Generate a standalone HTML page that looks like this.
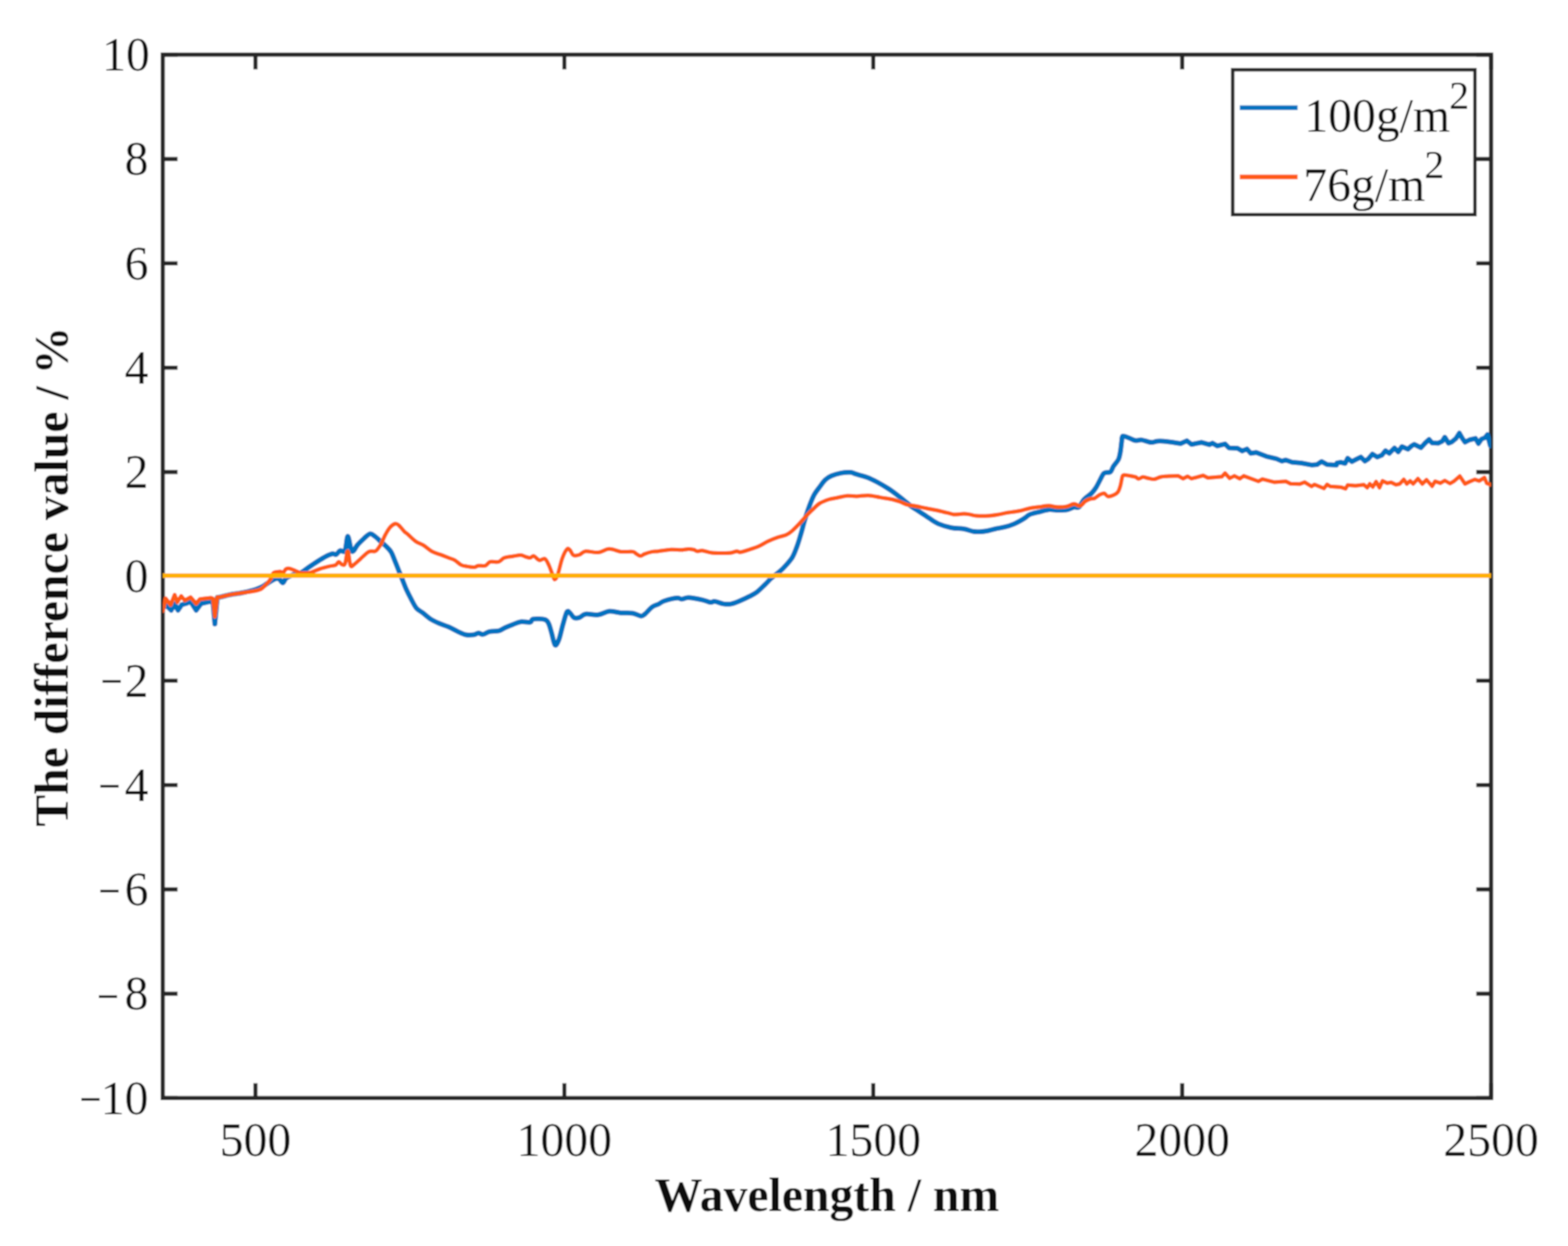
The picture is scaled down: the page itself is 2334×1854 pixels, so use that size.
<!DOCTYPE html><html><head><meta charset="utf-8"><title>The difference value</title><style>html,body{margin:0;padding:0;background:#fff;overflow:hidden;}svg{display:block}</style></head><body>
<svg width="2334" height="1854" viewBox="0 0 2334 1854">
<defs><filter id="soft" x="0" y="0" width="2334" height="1854" filterUnits="userSpaceOnUse"><feConvolveMatrix order="5" kernelMatrix="1 4 6 4 1 4 16 24 16 4 6 24 36 24 6 4 16 24 16 4 1 4 6 4 1" divisor="256" edgeMode="duplicate"/></filter></defs>
<g filter="url(#soft)">
<rect width="2334" height="1854" fill="#fff"/>
<path d="M242.3,1633.80h22M2219.5,1633.80h-22M242.3,1478.55h22M2219.5,1478.55h-22M242.3,1323.30h22M2219.5,1323.30h-22M242.3,1168.05h22M2219.5,1168.05h-22M242.3,1012.80h22M2219.5,1012.80h-22M242.3,702.30h22M2219.5,702.30h-22M242.3,547.05h22M2219.5,547.05h-22M242.3,391.80h22M2219.5,391.80h-22M242.3,236.55h22M2219.5,236.55h-22M242.3,81.30h22M2219.5,81.30h-22M380.24,1633.8v-22M380.24,81.3v22M840.06,1633.8v-22M840.06,81.3v22M1299.87,1633.8v-22M1299.87,81.3v22M1759.69,1633.8v-22M1759.69,81.3v22M2219.50,1633.8v-22M2219.50,81.3v22" stroke="#262626" stroke-width="6.2" fill="none"/>
<rect x="242.3" y="81.3" width="1977.2" height="1552.5" fill="none" stroke="#262626" stroke-width="6.2"/>
<g clip-path="url(#clip)">
<defs><clipPath id="clip"><rect x="242.3" y="81.3" width="1977.2" height="1552.5"/></clipPath></defs>
<path d="M242.5,903.0C242.5,903.0 248.3,901.6 248.3,901.6C248.3,901.6 254.8,908.0 254.8,908.0C254.8,908.0 260.0,898.8 260.0,898.8C260.0,898.8 265.0,908.0 265.0,908.0C265.0,908.0 270.6,899.8 270.6,899.8C270.6,899.8 277.0,898.0 277.0,898.0C277.0,898.0 283.6,895.0 283.6,895.0C283.6,895.0 292.0,908.0 292.0,908.0C292.0,908.0 299.4,898.0 299.4,898.0C299.4,898.0 312.4,895.0 312.4,895.0C312.4,895.0 317.0,896.0 317.0,896.0C317.0,896.0 319.8,928.5 319.8,928.5C319.8,928.5 323.5,889.0 323.5,889.0C323.5,889.0 327.2,888.6 327.2,888.6C327.2,888.6 336.4,886.1 342.0,885.0C347.6,883.9 354.4,883.2 360.6,882.0C366.8,880.8 374.4,878.8 379.0,877.5C383.6,876.2 385.3,875.5 388.4,874.0C391.5,872.5 394.9,869.9 397.7,868.2C400.5,866.5 402.7,864.8 405.0,863.6C407.3,862.4 409.8,861.1 411.6,860.8C413.4,860.5 414.4,860.9 416.0,862.0C417.6,863.1 419.4,867.5 421.0,867.3C422.6,867.1 423.7,862.5 425.5,860.8C427.3,859.1 429.6,858.1 432.0,857.0C434.4,855.9 437.2,854.9 440.0,854.0C442.8,853.1 445.6,853.2 448.6,851.8C451.6,850.3 454.0,847.9 457.8,845.3C461.6,842.7 467.1,838.9 471.7,836.0C476.3,833.1 481.8,829.7 485.7,827.7C489.6,825.7 492.4,824.5 494.9,824.0C497.4,823.5 498.6,825.8 500.5,825.0C502.4,824.2 503.9,820.3 506.1,819.4C508.3,818.5 511.6,823.0 513.5,819.4C515.4,815.8 516.2,798.2 517.7,798.0C519.2,797.8 521.3,814.8 522.8,818.4C524.3,822.0 525.0,820.6 526.5,819.4C528.0,818.2 529.5,814.0 532.0,811.0C534.5,808.0 538.2,804.5 541.3,801.7C544.4,798.9 547.8,794.9 550.6,794.3C553.4,793.7 555.2,796.0 558.0,798.0C560.8,800.0 564.5,803.9 567.3,806.4C570.1,808.9 572.2,810.4 574.7,812.9C577.2,815.4 579.9,817.7 582.1,821.2C584.3,824.8 585.5,828.9 587.7,834.2C589.9,839.5 593.2,848.2 595.1,852.8C597.0,857.4 597.2,858.0 598.8,862.0C600.4,866.0 602.6,872.0 604.7,876.8C606.9,881.6 609.2,886.1 611.7,890.8C614.2,895.5 616.9,901.3 619.8,904.8C622.7,908.3 625.7,909.1 629.2,911.8C632.7,914.5 637.0,918.6 640.9,921.1C644.8,923.6 648.0,925.0 652.5,927.0C657.0,929.0 662.8,930.7 667.7,932.8C672.6,934.9 677.4,937.8 681.7,939.8C686.0,941.8 689.5,943.7 693.4,944.5C697.3,945.3 702.0,944.9 705.1,944.5C708.2,944.1 709.8,942.2 712.1,942.1C714.4,942.0 716.4,944.3 719.1,943.9C721.8,943.5 724.5,940.7 728.4,939.8C732.3,938.9 738.5,939.6 742.4,938.6C746.3,937.6 748.3,935.5 751.8,934.0C755.3,932.5 759.6,930.8 763.5,929.3C767.4,927.8 770.8,925.8 775.1,925.2C779.4,924.6 786.0,926.5 789.1,925.8C792.2,925.1 790.1,921.8 793.8,921.1C797.4,920.5 807.1,920.7 811.0,921.9C814.9,923.1 815.1,924.7 816.9,928.3C818.6,931.9 820.0,938.2 821.5,943.5C823.0,948.8 824.5,958.4 826.2,959.8C828.0,961.1 830.0,956.7 832.0,951.6C834.0,946.5 835.9,936.2 837.9,929.4C839.9,922.6 842.0,913.7 843.7,910.8C845.5,907.9 846.6,910.5 848.4,911.9C850.1,913.2 851.9,917.7 854.2,918.9C856.5,920.1 859.5,919.8 862.4,918.9C865.3,918.0 867.0,914.4 871.7,913.7C876.4,913.0 884.5,915.5 890.4,914.8C896.2,914.1 901.1,910.1 906.8,909.6C912.4,909.1 918.5,911.4 924.3,911.9C930.1,912.4 936.9,911.7 941.8,912.5C946.7,913.3 950.6,916.3 953.5,916.6C956.4,916.9 956.4,916.6 959.3,914.3C962.2,912.0 967.5,905.5 971.0,903.0C974.5,900.5 977.0,900.5 980.0,899.0C983.0,897.5 984.6,895.5 989.3,894.0C994.0,892.5 1003.8,890.2 1008.0,889.8C1012.2,889.4 1011.8,891.7 1014.6,891.6C1017.4,891.5 1019.7,889.1 1024.8,889.3C1029.9,889.5 1040.0,891.4 1045.4,892.6C1050.9,893.8 1054.4,895.9 1057.5,896.3C1060.6,896.7 1060.8,894.5 1064.1,894.9C1067.4,895.3 1073.2,898.0 1077.2,898.6C1081.2,899.2 1084.4,899.4 1088.4,898.6C1092.4,897.8 1096.9,895.9 1101.4,894.0C1105.9,892.1 1111.3,889.6 1115.5,887.4C1119.7,885.2 1122.8,883.8 1126.7,880.9C1130.6,878.0 1135.2,873.1 1138.8,869.7C1142.4,866.3 1145.0,863.1 1148.1,860.3C1151.2,857.5 1154.4,855.5 1157.5,852.9C1160.6,850.3 1163.2,848.4 1166.8,844.5C1170.4,840.6 1176.0,834.6 1179.3,829.4C1182.5,824.2 1184.1,818.9 1186.3,813.1C1188.5,807.3 1190.2,801.0 1192.2,794.4C1194.2,787.8 1195.9,780.4 1198.0,773.4C1200.1,766.4 1202.7,758.6 1205.0,752.4C1207.3,746.2 1209.5,740.7 1212.0,736.0C1214.5,731.3 1217.5,728.1 1220.2,724.4C1222.9,720.7 1225.5,716.6 1228.4,713.9C1231.3,711.2 1233.8,709.7 1237.7,708.0C1241.6,706.3 1247.0,704.8 1251.7,703.9C1256.4,703.0 1261.8,702.5 1265.7,702.8C1269.6,703.1 1270.6,704.4 1275.1,705.7C1279.6,707.1 1287.1,708.8 1292.6,710.9C1298.0,713.0 1302.9,715.9 1307.8,718.5C1312.7,721.1 1317.5,724.0 1321.8,726.7C1326.1,729.4 1329.6,732.0 1333.5,734.9C1337.4,737.8 1341.2,741.1 1345.1,744.2C1349.0,747.3 1352.8,750.7 1356.8,753.6C1360.8,756.5 1364.9,758.9 1369.3,761.8C1373.7,764.7 1378.7,768.2 1383.4,771.2C1388.1,774.2 1392.0,777.3 1397.4,779.6C1402.8,781.9 1409.8,784.0 1416.0,785.2C1422.2,786.4 1429.2,786.1 1434.7,787.0C1440.2,787.9 1444.8,790.1 1448.7,790.8C1452.6,791.5 1455.0,791.3 1458.1,791.2C1461.2,791.1 1463.5,791.0 1467.4,790.3C1471.3,789.6 1476.7,788.0 1481.4,787.0C1486.1,786.0 1490.8,785.4 1495.5,784.2C1500.2,783.0 1504.8,781.6 1509.5,779.6C1514.2,777.6 1519.6,774.4 1523.5,772.1C1527.4,769.8 1528.9,767.3 1532.8,765.6C1536.7,763.9 1541.9,763.0 1546.8,761.8C1551.7,760.6 1557.4,758.7 1562.1,758.3C1566.8,757.9 1570.7,759.2 1575.2,759.2C1579.7,759.2 1585.3,759.1 1589.2,758.3C1593.1,757.5 1595.8,755.1 1598.6,754.5C1601.4,753.9 1603.5,756.4 1606.0,754.5C1608.5,752.6 1610.4,746.7 1613.5,743.3C1616.6,739.9 1621.7,737.0 1624.7,734.0C1627.7,731.0 1629.3,728.7 1631.3,725.6C1633.3,722.5 1634.9,718.9 1636.9,715.3C1638.9,711.7 1640.8,706.3 1643.4,704.1C1646.1,701.9 1650.5,703.9 1652.8,702.2C1655.1,700.5 1655.4,696.9 1657.4,693.8C1659.4,690.7 1663.2,687.1 1664.9,683.5C1666.6,679.9 1666.9,676.6 1667.7,672.3C1668.5,667.9 1669.0,661.3 1669.6,657.4C1670.2,653.5 1669.5,649.9 1671.4,649.0C1673.3,648.1 1677.7,650.7 1680.8,651.8C1683.9,652.9 1687.0,655.0 1690.1,655.5C1693.2,656.0 1695.6,654.1 1699.5,654.6C1703.4,655.1 1709.6,658.0 1713.5,658.3C1717.4,658.6 1718.9,656.6 1722.8,656.4C1726.7,656.2 1731.0,656.3 1736.8,656.9C1742.6,657.5 1757.4,660.0 1757.4,660.0C1757.4,660.0 1766.7,655.9 1766.7,655.9C1766.7,655.9 1773.6,661.2 1773.6,661.2C1773.6,661.2 1788.7,658.3 1788.7,658.3C1788.7,658.3 1800.3,661.7 1800.3,661.7C1800.3,661.7 1804.9,659.4 1804.9,659.4C1804.9,659.4 1811.9,663.5 1811.9,663.5C1811.9,663.5 1823.5,660.6 1823.5,660.6C1823.5,660.6 1829.3,666.4 1829.3,666.4C1829.3,666.4 1842.0,667.0 1842.0,667.0C1842.0,667.0 1849.0,671.0 1849.0,671.0C1849.0,671.0 1856.0,668.1 1856.0,668.1C1856.0,668.1 1861.8,674.5 1861.8,674.5C1861.8,674.5 1869.9,673.3 1869.9,673.3C1869.9,673.3 1885.0,679.1 1885.0,679.1C1885.0,679.1 1900.0,682.6 1900.0,682.6C1900.0,682.6 1908.1,686.1 1908.1,686.1C1908.1,686.1 1914.0,684.4 1914.0,684.4C1914.0,684.4 1923.2,687.8 1923.2,687.8C1923.2,687.8 1937.1,689.0 1937.1,689.0C1937.1,689.0 1952.2,691.9 1952.2,691.9C1952.2,691.9 1960.3,691.3 1960.3,691.3C1960.3,691.3 1967.3,686.7 1967.3,686.7C1967.3,686.7 1975.4,691.3 1975.4,691.3C1975.4,691.3 1989.3,691.9 1989.3,691.9C1989.3,691.9 1990.0,689.0 1990.0,689.0C1990.0,689.0 1995.6,687.9 1995.6,687.9C1995.6,687.9 2002.2,689.5 2002.2,689.5C2002.2,689.5 2006.1,681.8 2006.1,681.8C2006.1,681.8 2012.3,686.8 2012.3,686.8C2012.3,686.8 2018.9,683.4 2018.9,683.4C2018.9,683.4 2025.6,680.1 2025.6,680.1C2025.6,680.1 2031.7,686.2 2031.7,686.2C2031.7,686.2 2036.7,682.9 2036.7,682.9C2036.7,682.9 2042.9,675.6 2042.9,675.6C2042.9,675.6 2050.1,680.1 2050.1,680.1C2050.1,680.1 2056.8,677.3 2056.8,677.3C2056.8,677.3 2062.3,670.6 2062.3,670.6C2062.3,670.6 2067.9,674.5 2067.9,674.5C2067.9,674.5 2075.7,666.7 2075.7,666.7C2075.7,666.7 2081.3,672.3 2081.3,672.3C2081.3,672.3 2086.8,664.5 2086.8,664.5C2086.8,664.5 2095.7,668.4 2095.7,668.4C2095.7,668.4 2101.3,663.4 2101.3,663.4C2101.3,663.4 2105.0,661.2 2105.0,661.2C2105.0,661.2 2115.0,666.2 2115.0,666.2C2115.0,666.2 2121.7,658.9 2121.7,658.9C2121.7,658.9 2127.3,653.9 2127.3,653.9C2127.3,653.9 2131.7,658.9 2131.7,658.9C2131.7,658.9 2140.6,659.5 2140.6,659.5C2140.6,659.5 2146.7,656.7 2146.7,656.7C2146.7,656.7 2150.6,650.6 2150.6,650.6C2150.6,650.6 2156.2,659.5 2156.2,659.5C2156.2,659.5 2160.6,657.8 2160.6,657.8C2160.6,657.8 2167.3,652.3 2167.3,652.3C2167.3,652.3 2172.3,644.5 2172.3,644.5C2172.3,644.5 2176.8,652.3 2176.8,652.3C2176.8,652.3 2180.7,657.8 2180.7,657.8C2180.7,657.8 2187.4,654.5 2187.4,654.5C2187.4,654.5 2196.3,652.3 2196.3,652.3C2196.3,652.3 2200.7,660.0 2200.7,660.0C2200.7,660.0 2205.2,653.4 2205.2,653.4C2205.2,653.4 2210.7,651.1 2210.7,651.1C2210.7,651.1 2214.1,646.7 2214.1,646.7C2214.1,646.7 2218.5,663.4 2218.5,663.4" fill="none" stroke="#0072C0" stroke-width="7.5" stroke-linejoin="round" stroke-linecap="round"/>
<path d="M242.5,909.0C242.5,909.0 246.5,890.5 246.5,890.5C246.5,890.5 254.0,899.8 254.0,899.8C254.0,899.8 260.0,885.0 260.0,885.0C260.0,885.0 264.0,896.0 264.0,896.0C264.0,896.0 269.7,886.8 269.7,886.8C269.7,886.8 275.0,893.3 275.0,893.3C275.0,893.3 283.6,888.6 283.6,888.6C283.6,888.6 292.0,898.0 292.0,898.0C292.0,898.0 297.5,891.4 297.5,891.4C297.5,891.4 305.0,890.5 305.0,890.5C305.0,890.5 314.2,889.6 314.2,889.6C314.2,889.6 317.0,890.5 317.0,890.5C317.0,890.5 319.8,917.4 319.8,917.4C319.8,917.4 323.5,888.6 323.5,888.6C323.5,888.6 327.2,888.6 327.2,888.6C327.2,888.6 336.4,886.1 342.0,885.0C347.6,883.9 354.4,883.1 360.6,882.2C366.8,881.3 374.4,880.3 379.0,879.4C383.6,878.5 385.6,878.2 388.4,876.6C391.2,875.0 393.3,872.6 395.8,870.0C398.3,867.4 401.4,863.7 403.3,860.8C405.2,857.9 404.8,854.2 407.0,852.5C409.2,850.8 413.8,850.8 416.3,850.6C418.8,850.4 420.3,852.1 421.8,851.5C423.3,850.9 424.0,847.8 425.5,846.9C427.0,846.0 428.7,845.6 431.0,846.0C433.3,846.4 436.4,847.9 439.3,849.0C442.2,850.1 444.7,852.3 448.6,852.8C452.5,853.3 457.9,852.9 462.5,851.8C467.1,850.7 471.8,847.8 476.4,846.3C481.0,844.8 486.4,843.5 490.3,842.6C494.2,841.7 497.3,841.8 499.6,840.7C501.9,839.6 502.7,836.1 504.2,836.0C505.7,835.9 507.2,839.3 508.8,839.8C510.4,840.3 512.0,842.1 513.5,838.9C515.0,835.6 516.3,819.8 517.7,820.3C519.1,820.8 520.2,838.4 521.8,841.6C523.4,844.9 524.9,841.5 527.4,839.8C529.9,838.1 533.6,834.2 536.7,831.4C539.8,828.6 543.7,824.9 546.0,823.0C548.3,821.1 548.6,820.8 550.6,820.3C552.6,819.8 556.1,820.8 558.0,820.3C559.9,819.8 560.2,819.4 561.7,817.5C563.2,815.6 565.3,812.9 567.3,809.2C569.3,805.5 571.6,799.3 573.8,795.3C576.0,791.3 578.0,787.6 580.3,785.0C582.6,782.4 585.5,780.1 587.7,779.5C589.9,778.9 591.0,779.4 593.3,781.3C595.6,783.1 599.3,788.3 601.6,790.6C603.9,792.9 604.1,792.5 607.0,795.0C609.9,797.5 614.8,802.8 618.7,805.5C622.6,808.2 626.3,808.9 630.4,811.4C634.5,813.9 638.9,818.4 643.2,820.7C647.5,823.0 651.9,823.9 656.0,825.4C660.1,826.9 664.2,828.6 667.7,830.0C671.2,831.4 673.9,831.8 677.0,833.6C680.1,835.4 683.3,839.1 686.4,840.6C689.5,842.1 692.4,842.3 695.7,842.9C699.0,843.5 703.5,844.2 706.2,844.0C708.9,843.8 709.3,842.1 712.0,841.7C714.7,841.3 719.7,842.7 722.6,841.7C725.5,840.7 726.3,836.9 729.6,835.9C732.9,834.9 738.9,836.9 742.4,835.9C745.9,834.9 747.1,831.4 750.6,830.0C754.1,828.6 759.4,828.4 763.5,827.7C767.6,827.0 772.0,825.9 775.1,826.0C778.2,826.1 779.8,827.6 782.1,828.3C784.4,829.0 787.0,830.2 789.1,830.0C791.2,829.8 792.4,826.7 794.7,827.3C797.0,827.9 800.1,833.0 802.8,833.7C805.5,834.4 808.6,830.2 811.0,831.4C813.4,832.6 815.1,837.2 816.9,840.7C818.6,844.2 820.0,848.8 821.5,852.4C823.0,856.0 824.1,861.9 825.6,862.3C827.1,862.7 828.4,859.9 830.3,854.7C832.1,849.6 834.5,837.6 836.7,831.4C838.9,825.2 841.8,819.5 843.7,817.4C845.7,815.2 846.8,817.0 848.4,818.5C850.0,820.0 851.3,824.9 853.6,826.1C855.9,827.3 859.4,826.5 862.4,825.5C865.4,824.5 867.0,820.9 871.7,820.3C876.4,819.7 884.5,822.6 890.4,822.0C896.2,821.4 901.1,817.0 906.8,816.8C912.4,816.6 918.5,820.2 924.3,820.9C930.1,821.6 937.9,820.3 941.8,820.9C945.7,821.5 945.6,823.3 947.6,824.4C949.6,825.5 951.5,827.3 953.5,827.3C955.5,827.3 956.4,825.5 959.3,824.4C962.2,823.3 967.5,821.6 971.0,820.9C974.5,820.2 975.4,820.7 980.0,820.2C984.6,819.7 992.9,818.1 998.7,817.8C1004.5,817.5 1010.2,818.4 1014.6,818.3C1019.0,818.1 1021.8,817.0 1024.8,816.9C1027.8,816.8 1030.1,817.2 1032.3,817.8C1034.5,818.3 1035.7,820.0 1037.9,820.2C1040.1,820.4 1041.8,818.8 1045.4,819.2C1049.0,819.6 1054.3,821.9 1059.4,822.5C1064.5,823.1 1071.4,823.0 1076.2,823.0C1081.0,823.0 1085.0,823.0 1088.4,822.5C1091.8,822.0 1094.5,820.4 1096.8,820.2C1099.1,820.1 1099.3,822.0 1102.4,821.6C1105.5,821.2 1111.0,819.3 1115.5,817.8C1120.0,816.3 1124.8,814.8 1129.5,812.7C1134.2,810.6 1138.8,807.4 1143.5,805.2C1148.2,803.0 1153.1,801.1 1157.5,799.6C1161.9,798.1 1166.4,797.6 1170.0,796.0C1173.6,794.4 1176.2,792.3 1179.3,789.7C1182.4,787.1 1185.4,783.9 1188.7,780.4C1192.0,776.9 1195.9,772.2 1199.2,768.7C1202.5,765.2 1205.0,762.7 1208.5,759.4C1212.0,756.1 1215.9,751.6 1220.2,748.9C1224.5,746.2 1229.9,744.4 1234.2,743.0C1238.5,741.6 1241.4,741.6 1245.9,740.7C1250.4,739.8 1256.2,738.2 1261.1,737.8C1266.0,737.4 1269.8,738.5 1275.1,738.4C1280.3,738.3 1286.8,736.9 1292.6,737.2C1298.4,737.5 1304.3,739.1 1310.1,740.1C1315.9,741.1 1322.7,741.9 1327.6,743.0C1332.5,744.1 1335.4,745.1 1339.3,746.5C1343.2,747.9 1347.5,750.2 1351.0,751.2C1354.5,752.2 1355.4,751.7 1360.0,752.5C1364.6,753.3 1372.5,755.0 1378.7,756.2C1384.9,757.5 1391.2,758.6 1397.4,760.0C1403.6,761.4 1412.1,763.7 1416.0,764.6C1419.9,765.5 1417.6,765.6 1420.7,765.6C1423.8,765.6 1430.8,764.6 1434.7,764.6C1438.6,764.6 1441.0,765.1 1444.1,765.6C1447.2,766.1 1448.7,767.1 1453.4,767.4C1458.1,767.7 1466.6,767.7 1472.1,767.4C1477.5,767.1 1481.4,766.4 1486.1,765.6C1490.8,764.8 1494.6,763.7 1500.1,762.8C1505.5,761.9 1513.3,761.1 1518.8,760.0C1524.2,758.9 1528.1,757.2 1532.8,756.2C1537.5,755.2 1542.1,754.9 1546.8,754.3C1551.5,753.7 1556.6,752.6 1561.2,752.6C1565.8,752.6 1569.9,754.3 1574.3,754.5C1578.7,754.7 1583.4,754.4 1587.4,753.6C1591.5,752.8 1595.2,750.0 1598.6,749.8C1602.0,749.6 1605.1,753.2 1607.9,752.6C1610.7,752.0 1612.9,747.8 1615.4,746.1C1617.9,744.4 1620.6,743.2 1622.9,742.4C1625.2,741.6 1627.2,742.3 1629.4,741.4C1631.6,740.5 1633.6,738.0 1635.9,736.8C1638.2,735.6 1641.2,733.7 1643.4,734.0C1645.6,734.3 1646.7,738.1 1649.0,738.6C1651.3,739.1 1654.9,737.9 1657.4,736.8C1659.9,735.7 1662.3,734.4 1664.0,732.1C1665.7,729.8 1666.6,726.5 1667.7,722.8C1668.8,719.1 1669.7,712.4 1670.5,709.7C1671.3,707.1 1670.7,707.2 1672.4,706.9C1674.1,706.6 1677.8,707.3 1680.8,707.8C1683.8,708.3 1687.8,708.9 1690.1,709.7C1692.4,710.5 1692.9,712.5 1694.8,712.5C1696.7,712.5 1699.0,709.9 1701.3,709.7C1703.6,709.5 1706.0,711.0 1708.8,711.5C1711.6,712.0 1715.0,713.3 1718.1,713.0C1721.2,712.7 1724.4,710.4 1727.5,709.7C1730.6,709.0 1732.4,709.0 1736.8,708.7C1741.2,708.4 1753.9,708.1 1753.9,708.1C1753.9,708.1 1760.9,712.2 1760.9,712.2C1760.9,712.2 1767.8,708.7 1767.8,708.7C1767.8,708.7 1773.6,712.2 1773.6,712.2C1773.6,712.2 1791.0,707.5 1791.0,707.5C1791.0,707.5 1798.0,711.0 1798.0,711.0C1798.0,711.0 1818.8,709.3 1818.8,709.3C1818.8,709.3 1823.5,704.1 1823.5,704.1C1823.5,704.1 1830.4,711.6 1830.4,711.6C1830.4,711.6 1837.4,708.1 1837.4,708.1C1837.4,708.1 1845.5,712.2 1845.5,712.2C1845.5,712.2 1851.3,708.1 1851.3,708.1C1851.3,708.1 1873.3,716.2 1873.3,716.2C1873.3,716.2 1879.1,712.8 1879.1,712.8C1879.1,712.8 1896.5,717.4 1896.5,717.4C1896.5,717.4 1914.0,716.2 1914.0,716.2C1914.0,716.2 1920.9,719.7 1920.9,719.7C1920.9,719.7 1934.8,720.3 1934.8,720.3C1934.8,720.3 1941.8,717.4 1941.8,717.4C1941.8,717.4 1952.2,723.8 1952.2,723.8C1952.2,723.8 1956.8,720.9 1956.8,720.9C1956.8,720.9 1970.8,726.7 1970.8,726.7C1970.8,726.7 1975.4,720.9 1975.4,720.9C1975.4,720.9 1980.0,723.8 1980.0,723.8C1980.0,723.8 1990.0,724.5 1990.0,724.5C1990.0,724.5 1996.7,725.1 1996.7,725.1C1996.7,725.1 2002.8,727.3 2002.8,727.3C2002.8,727.3 2006.1,721.7 2006.1,721.7C2006.1,721.7 2017.8,722.8 2017.8,722.8C2017.8,722.8 2030.1,721.2 2030.1,721.2C2030.1,721.2 2035.1,725.6 2035.1,725.6C2035.1,725.6 2039.0,720.0 2039.0,720.0C2039.0,720.0 2043.4,724.5 2043.4,724.5C2043.4,724.5 2048.4,716.7 2048.4,716.7C2048.4,716.7 2053.4,725.6 2053.4,725.6C2053.4,725.6 2057.9,715.6 2057.9,715.6C2057.9,715.6 2065.1,718.9 2065.1,718.9C2065.1,718.9 2070.7,717.8 2070.7,717.8C2070.7,717.8 2077.9,721.2 2077.9,721.2C2077.9,721.2 2083.5,720.0 2083.5,720.0C2083.5,720.0 2089.6,713.4 2089.6,713.4C2089.6,713.4 2094.1,720.0 2094.1,720.0C2094.1,720.0 2099.1,715.6 2099.1,715.6C2099.1,715.6 2103.5,720.0 2103.5,720.0C2103.5,720.0 2110.6,712.3 2110.6,712.3C2110.6,712.3 2117.2,720.0 2117.2,720.0C2117.2,720.0 2123.4,713.9 2123.4,713.9C2123.4,713.9 2131.7,723.4 2131.7,723.4C2131.7,723.4 2136.2,716.2 2136.2,716.2C2136.2,716.2 2144.0,718.9 2144.0,718.9C2144.0,718.9 2150.6,715.0 2150.6,715.0C2150.6,715.0 2158.4,719.5 2158.4,719.5C2158.4,719.5 2164.0,716.2 2164.0,716.2C2164.0,716.2 2172.9,708.4 2172.9,708.4C2172.9,708.4 2180.7,720.0 2180.7,720.0C2180.7,720.0 2187.4,716.7 2187.4,716.7C2187.4,716.7 2195.1,713.4 2195.1,713.4C2195.1,713.4 2201.8,715.6 2201.8,715.6C2201.8,715.6 2209.6,710.6 2209.6,710.6C2209.6,710.6 2213.0,718.9 2213.0,718.9C2213.0,718.9 2218.5,721.2 2218.5,721.2" fill="none" stroke="#FF5A17" stroke-width="6.0" stroke-linejoin="round" stroke-linecap="round"/>
</g>
<line x1="242.3" y1="856.6" x2="2219.5" y2="856.6" stroke="#FFB000" stroke-width="7"/>
<g font-family="'Liberation Serif','Times New Roman',serif" font-size="71" fill="#111"><text transform="translate(118.2,1663.3) scale(0.82,1.15)">&#8722;</text><text x="221" y="1657.6" text-anchor="end">10</text><text transform="translate(144.3,1509.5) scale(0.82,1.15)">&#8722;</text><text x="221" y="1502.3" text-anchor="end">8</text><text transform="translate(146.6,1353.4) scale(0.82,1.15)">&#8722;</text><text x="221" y="1347.1" text-anchor="end">6</text><text transform="translate(146.6,1197.4) scale(0.82,1.15)">&#8722;</text><text x="221" y="1191.8" text-anchor="end">4</text><text transform="translate(149.8,1041.0) scale(0.82,1.15)">&#8722;</text><text x="221" y="1036.6" text-anchor="end">2</text><text x="221" y="881.3" text-anchor="end">0</text><text x="221" y="726.1" text-anchor="end">2</text><text x="221" y="570.8" text-anchor="end">4</text><text x="221" y="415.6" text-anchor="end">6</text><text x="221" y="260.3" text-anchor="end">8</text><text x="223" y="105.1" text-anchor="end">10</text><text x="380.2" y="1719.5" text-anchor="middle">500</text><text x="840.1" y="1719.5" text-anchor="middle">1000</text><text x="1299.9" y="1719.5" text-anchor="middle">1500</text><text x="1759.7" y="1719.5" text-anchor="middle">2000</text><text x="2219.5" y="1719.5" text-anchor="middle">2500</text></g>
<text x="1230.9" y="1801.5" text-anchor="middle" font-family="'Liberation Serif','Times New Roman',serif" font-size="71" font-weight="bold" fill="#111">Wavelength / nm</text>
<text transform="translate(100.9,858.0) rotate(-90)" x="0" y="0" text-anchor="middle" font-family="'Liberation Serif','Times New Roman',serif" font-size="71" font-weight="bold" fill="#111">The difference value / %</text>
<rect x="1834.9" y="103.8" width="360.6" height="215.6" fill="#fff" stroke="#262626" stroke-width="5.2"/>
<line x1="1845.5" y1="160.3" x2="1931.5" y2="160.3" stroke="#0072C0" stroke-width="7"/>
<line x1="1845.5" y1="263.2" x2="1931.5" y2="263.2" stroke="#FF5A17" stroke-width="7"/>
<g font-family="'Liberation Serif','Times New Roman',serif" font-size="71" fill="#111">
<text x="1941.5" y="195.5">100g/m<tspan font-size="60" dx="-1.5" dy="-34">2</tspan></text>
<text x="1940" y="299">76g/m<tspan font-size="60" dx="-1.5" dy="-34">2</tspan></text>
</g>
</g>
</svg></body></html>
